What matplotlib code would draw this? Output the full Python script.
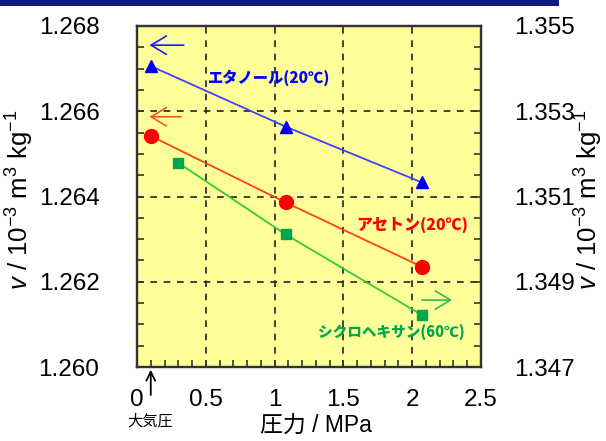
import matplotlib
matplotlib.use("Agg")
import matplotlib.pyplot as plt
from matplotlib.patches import Rectangle
from matplotlib.ticker import MultipleLocator, FormatStrFormatter

plt.rcParams['font.family'] = ['Liberation Sans', 'Noto Sans CJK JP']
plt.rcParams['mathtext.fontset'] = 'custom'
plt.rcParams['mathtext.rm'] = 'Liberation Sans'
plt.rcParams['mathtext.it'] = 'Liberation Sans:italic'

# pressure / MPa
p_eth = [0.1, 1.08, 2.07]
v_eth = [1.26706, 1.26564, 1.26433]
p_ace = [0.1, 1.08, 2.07]
v_ace = [1.26542, 1.26386, 1.26235]
p_cyc = [0.30, 1.08, 2.07]
v_cyc = [1.35179, 1.35011, 1.34822]   # right axis

xticks = [0, 0.5, 1, 1.5, 2, 2.5]
yticks_l = [1.260, 1.262, 1.264, 1.266, 1.268]
yticks_r = [1.347, 1.349, 1.351, 1.353, 1.355]

W, H = 606, 441
fig = plt.figure(figsize=(W / 100, H / 100), dpi=100)
fig.patches.append(Rectangle((0, 1 - 5.5 / H), 559 / W, 5.5 / H, transform=fig.transFigure,
                             facecolor='#0a1a82', edgecolor='none'))

ax = fig.add_axes([137 / W, (H - 367) / H, 344 / W, 341 / H])
ax.set_facecolor('#ffff99')
ax2 = ax.twinx()

ax.set_xlim(0, 2.5)
ax.set_ylim(1.260, 1.268)
ax2.set_ylim(1.347, 1.355)
ax.set_xticks(xticks)
ax.set_xticklabels(['0', '0.5', '1', '1.5', '2', '2.5'])
ax.set_yticks(yticks_l)
ax2.set_yticks(yticks_r)
ax.yaxis.set_major_formatter(FormatStrFormatter('%.3f'))
ax2.yaxis.set_major_formatter(FormatStrFormatter('%.3f'))
ax.xaxis.set_minor_locator(MultipleLocator(0.1))
ax.yaxis.set_minor_locator(MultipleLocator(0.0005))
ax2.yaxis.set_minor_locator(MultipleLocator(0.0005))

ax.grid(True, which='major', color='#222222', linestyle=(0, (4, 4)), linewidth=1.2)
ax.tick_params(axis='both', which='both', direction='in', length=5, width=1.2,
               color='#333333', labelsize=17.5, top=False)
ax.tick_params(axis='y', pad=27)
ax.tick_params(axis='x', pad=16)
ax2.tick_params(axis='y', which='both', direction='in', length=5, width=1.2,
                color='#333333', labelsize=17.5, pad=24)
for a in (ax, ax2):
    for s in a.spines.values():
        s.set_color('#333333')
        s.set_linewidth(1.6)

ax.plot(p_eth, v_eth, color='#4040ff', lw=1.3, marker='^', ms=8,
        mfc='#0000ee', mec='#0000ee', zorder=5)
ax.plot(p_ace, v_ace, color='#ff4020', lw=1.3, marker='o', ms=10,
        mfc='#ff0000', mec='#ff0000', zorder=5)
ax2.plot(p_cyc, v_cyc, color='#33cc33', lw=1.3, marker='s', ms=7.5,
         mfc='#00a650', mec='#00a650', zorder=5)

ax.text(0.96, 1.26678, 'エタノール(20℃)', color='#0000ff', fontsize=11,
        fontweight='heavy', family='Noto Sans CJK JP', ha='center', va='center', zorder=6)
ax.text(2.0, 1.26333, 'アセトン(20℃)', color='#ff0000', fontsize=11.5,
        fontweight='heavy', family='Noto Sans CJK JP', ha='center', va='center', zorder=6)
ax.text(1.85, 1.26080, 'シクロヘキサン(60℃)', color='#00a650', fontsize=10.5,
        fontweight='heavy', family='Noto Sans CJK JP', ha='center', va='center', zorder=6)

# axis indicators: which scale each series belongs to
arr = dict(arrowstyle='->,head_length=0.5,head_width=0.3', lw=1.2, mutation_scale=22)
ax.annotate('', xy=(0.07, 1.26755), xytext=(0.36, 1.26755),
            arrowprops=dict(arr, color='#1a1aff'), zorder=6)
ax.annotate('', xy=(0.07, 1.26587), xytext=(0.34, 1.26587),
            arrowprops=dict(arr, color='#ff5030'), zorder=6)
ax.annotate('', xy=(2.31, 1.26157), xytext=(2.05, 1.26157),
            arrowprops=dict(arr, color='#33bb55'), zorder=6)

# atmospheric pressure marker below the axis
ax.annotate('', xy=(0.1, 0), xycoords=('data', 'axes fraction'),
            xytext=(0.1, -0.09), textcoords=('data', 'axes fraction'),
            arrowprops=dict(arrowstyle='->', lw=1.3, color='black', mutation_scale=16),
            annotation_clip=False)
fig.text(150 / W, 1 - 421 / H, '大気圧', fontsize=11, family='Noto Sans CJK JP',
         ha='center', va='center')

fig.text(316 / W, 1 - 426 / H, '圧力 / MPa', fontsize=16.5, ha='center', va='center')
ylab = r'$\mathit{v}$ / 10$^{-3}$ m$^{3}$ kg$^{-1}$'
fig.text(4 / W, 1 - 200 / H, ylab, fontsize=18.5, rotation=90, ha='left', va='center')
fig.text(605 / W, 1 - 200 / H, ylab, fontsize=18.5, rotation=90, ha='right', va='center')

fig.savefig('out.png', dpi=100)
